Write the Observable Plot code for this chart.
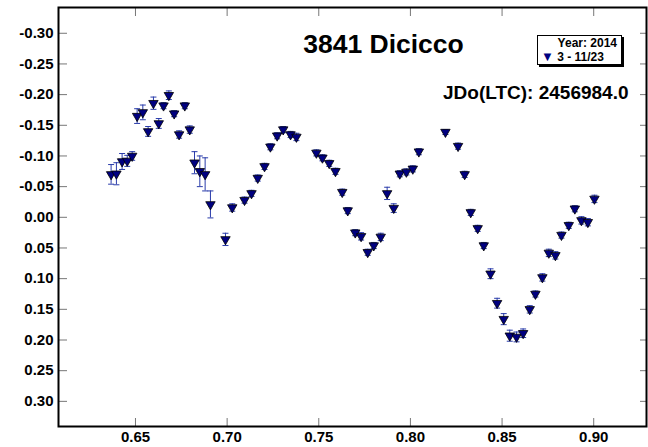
<!DOCTYPE html>
<html><head><meta charset="utf-8">
<script src="https://cdn.jsdelivr.net/npm/d3@7"></script>
<script src="https://cdn.jsdelivr.net/npm/@observablehq/plot@0.6"></script>
<style>
body{margin:0;background:#fff;}
#chart{position:relative;width:648px;height:447px;font-family:"Liberation Sans",Arial,sans-serif;}
#legend{position:absolute;left:537px;top:35px;width:83px;height:28px;border:1px solid #000;box-shadow:2px 2px 0 #000;background:#fff;font-weight:bold;font-size:12px;line-height:13px;color:#000;}
#legend .yr{text-align:right;padding-right:4px;margin-top:1px;}
#legend .sr{padding-left:3px;}
#legend .tri{color:#000080;font-size:13px;}
</style></head>
<body><div id="chart"></div>
<script>
const phase = [
0.6367,0.6396,0.6427,0.6455,0.6482,0.6509,0.6540,0.6569,0.6598,0.6627,0.6653,0.6682,0.6711,0.6738,0.6769,0.6796,0.6822,0.6851,0.6880,0.6909,0.6991,0.7028,0.7095,
0.7133,0.7167,0.7204,0.7236,0.7273,0.7306,0.7346,0.7378,0.7487,0.7520,0.7557,0.7591,0.7628,0.7658,0.7699,0.7731,0.7767,0.7800,0.7838,0.7873,0.7909,0.7942,0.7978,0.8013,0.8046,
0.8191,0.8260,0.8296,0.8329,0.8367,0.8400,0.8437,0.8473,0.8509,0.8542,0.8579,0.8615,0.8651,0.8682,0.8720,0.8755,0.8791,0.8824,0.8864,0.8897,0.8933,0.8968,0.9004];
const mag = [
-0.070,-0.071,-0.091,-0.092,-0.100,-0.165,-0.171,-0.140,-0.186,-0.153,-0.182,-0.199,-0.169,-0.135,-0.182,-0.143,-0.089,-0.075,-0.070,-0.021,0.036,-0.016,-0.028,
-0.039,-0.064,-0.083,-0.115,-0.133,-0.143,-0.135,-0.131,-0.105,-0.097,-0.088,-0.075,-0.041,-0.011,0.025,0.031,0.057,0.046,0.032,-0.039,-0.015,-0.071,-0.074,-0.079,-0.107,
-0.139,-0.116,-0.070,-0.008,0.018,0.046,0.092,0.140,0.166,0.193,0.195,0.189,0.150,0.125,0.098,0.058,0.062,0.029,0.013,-0.014,0.005,0.008,-0.030];
const err = [
0.016,0.018,0.013,0.009,0.007,0.012,0.012,0.008,0.010,0.008,0.005,0.007,0.005,0.006,0.005,0.006,0.018,0.025,0.027,0.022,0.010,0.006,0.005,
0.005,0.005,0.005,0.005,0.005,0.005,0.005,0.006,0.005,0.005,0.005,0.005,0.005,0.005,0.005,0.006,0.005,0.005,0.006,0.010,0.007,0.005,0.005,0.005,0.005,
0.004,0.005,0.005,0.005,0.005,0.005,0.008,0.008,0.009,0.009,0.008,0.007,0.006,0.005,0.006,0.006,0.006,0.005,0.005,0.005,0.006,0.006,0.006];
const xTicks = [0.65,0.70,0.75,0.80,0.85,0.90];
const yTicks = [-0.30,-0.25,-0.20,-0.15,-0.10,-0.05,0.00,0.05,0.10,0.15,0.20,0.25,0.30];
const titleText = "3841 Dicicco";
const jdoText = "JDo(LTC): 2456984.0";
const legendYear = "Year: 2014";
const legendSeries = "3 - 11/23";

const data = phase.map((p,i)=>({phase:p, mag:mag[i], err:err[i]}));
const fmt = d => (Math.abs(d) < 1e-9 ? 0 : d).toFixed(2);
const capSymbol = {draw(ctx){ ctx.moveTo(-3,0); ctx.lineTo(3,0); }};
const errColor = "#2a3caa";
const tickColor = "#777";

const chart = Plot.plot({
  width:648, height:447,
  marginLeft:58, marginRight:2, marginTop:7, marginBottom:21,
  style:{fontFamily:"'Liberation Sans', Arial, sans-serif", fontWeight:"bold", fontSize:"15px", color:"#000", background:"#fff"},
  x:{domain:[0.608,0.9288]},
  y:{domain:[-0.342,0.341], reverse:true},
  marks:[
    Plot.axisX(xTicks,{anchor:"bottom", tickSize:0, tickPadding:5, tickFormat:fmt, label:null}),
    Plot.axisX(xTicks,{anchor:"bottom", tickSize:-8, stroke:tickColor, fill:"none", label:null}),
    Plot.axisX(xTicks,{anchor:"top", tickSize:-8, stroke:tickColor, fill:"none", label:null}),
    Plot.axisY(yTicks,{anchor:"left", tickSize:0, tickPadding:5, tickFormat:fmt, label:null}),
    Plot.axisY(yTicks,{anchor:"left", tickSize:-9, stroke:tickColor, fill:"none", label:null}),
    Plot.axisY(yTicks,{anchor:"right", tickSize:-7, stroke:tickColor, fill:"none", label:null}),
    Plot.ruleX(data,{x:"phase", y1:d=>d.mag-d.err, y2:d=>d.mag+d.err, stroke:errColor, strokeWidth:1}),
    Plot.dot(data,{x:"phase", y:d=>d.mag-d.err, symbol:capSymbol, stroke:errColor, fill:"none", strokeWidth:1}),
    Plot.dot(data,{x:"phase", y:d=>d.mag+d.err, symbol:capSymbol, stroke:errColor, fill:"none", strokeWidth:1}),
    Plot.dot(data,{x:"phase", y:"mag", symbol:"triangle", r:3.5, rotate:180, fill:"#000080", stroke:"#000", strokeWidth:0.8}),
    Plot.text([titleText],{text:d=>d, frameAnchor:"top", dx:31, dy:45, lineAnchor:"bottom", fontSize:26.5, fontWeight:"bold", fill:"#000"}),
    Plot.text([jdoText],{text:d=>d, frameAnchor:"top-right", textAnchor:"end", dx:-18, dy:91, lineAnchor:"bottom", fontSize:19, fontWeight:"bold", fill:"#000"}),
    Plot.frame({stroke:"#000", strokeWidth:2})
  ]
});
const host = document.getElementById("chart");
host.appendChild(chart);
const lg = document.createElement("div");
lg.id = "legend";
lg.innerHTML = `<div class="yr">${legendYear}</div><div class="sr"><span class="tri">▼</span> ${legendSeries}</div>`;
host.appendChild(lg);
</script>
</body></html>
